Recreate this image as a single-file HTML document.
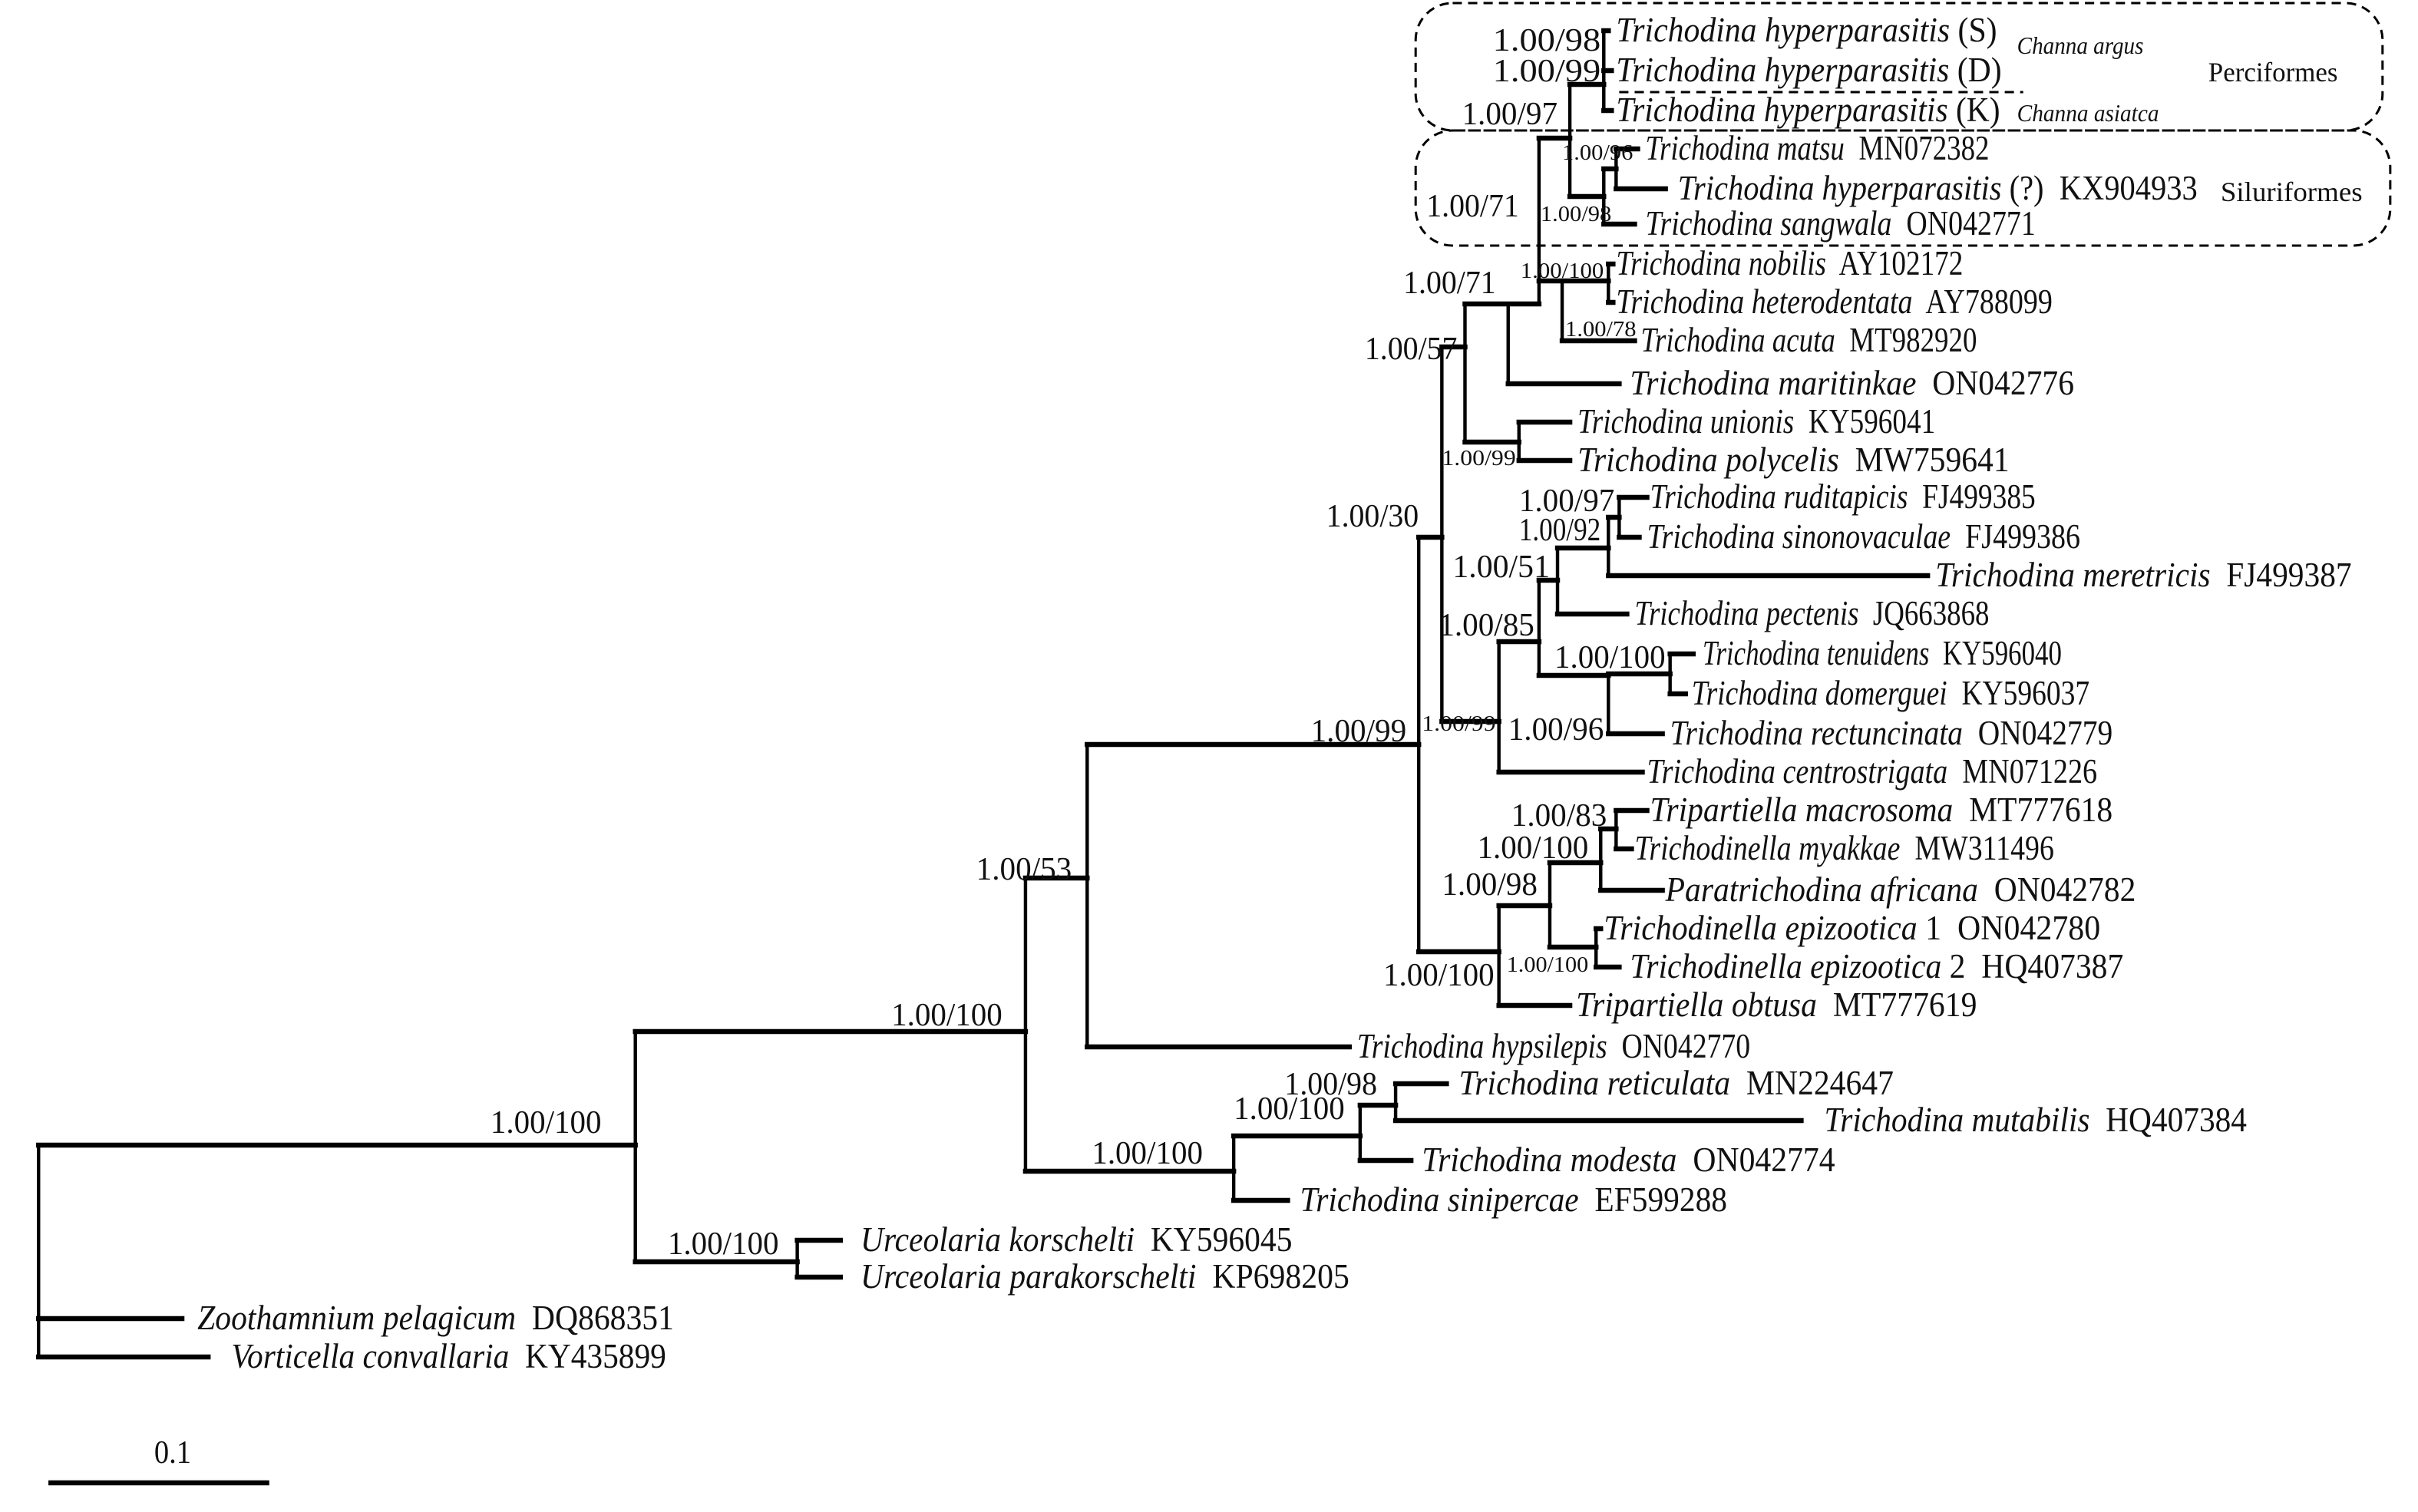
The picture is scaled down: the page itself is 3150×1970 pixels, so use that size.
<!DOCTYPE html>
<html><head><meta charset="utf-8"><style>
html,body{margin:0;padding:0;background:#fff;}
svg{display:block;}
text{font-family:"Liberation Serif",serif;fill:#111;white-space:pre;}
.l{font-size:22.5px;}
.s{font-size:21px;}
.t{font-size:14px;}
.i{font-style:italic;}
</style></head><body>
<svg width="3150" height="1970" viewBox="0 0 1568 985" preserveAspectRatio="none" xmlns="http://www.w3.org/2000/svg" xml:space="preserve">
<g stroke="#000" fill="none" stroke-linecap="square">
<g stroke-width="3.2">
<path d="M25 746H412M25 859H118M25 884H135M412 672H665M412 822H517M517 808H545M517 832H545
M665 572H705M665 763H800M705 485H920M705 682H875M800 782H835M800 740H882M882 756H915M882 720H905M905 706H938M905 730H1168
M920 350H935M920 620H972M935 226H950M935 470H972M950 198H978M950 288H985M985 275H1018M985 300H1018
M978 198H998M978 250H1050M998 90H1018M998 183H1013M1013 183H1043M1043 172H1046M1043 197H1046M1013 222H1060
M1018 55H1040M1040 20H1043M1040 46H1045M1040 72H1045M1018 128H1040M1040 110H1048M1048 97H1062M1048 123H1080M1040 146H1060
M972 418H998M998 378H1010M998 440H1043M1010 357H1043M1010 400H1055M1043 337H1050M1050 324H1068M1050 350H1063M1043 375H1250
M1043 439H1083M1083 426H1098M1083 452H1093M1043 478H1078M972 503H1065
M972 590H1005M972 655H1018M1005 562H1038M1005 617H1035M1038 540H1048M1048 528H1068M1048 553H1058M1038 580H1078M1035 605H1038M1035 630H1050
M33 966H173"/>
</g>
<g stroke-width="2.2">
<path d="M25 746V884M412 672V822M517 808V832M665 572V763M705 485V682M800 740V782M882 720V756M905 706V730
M920 350V620M935 226V470M950 198V288M985 275V300M978 198V250M998 90V198M1013 183V222M1043 172V197
M1018 55V128M1040 20V72M1040 110V146M1048 97V123
M972 418V503M998 378V440M1010 357V400M1043 337V375M1050 324V350M1043 439V478M1083 426V452
M972 590V655M1005 562V617M1038 540V580M1048 528V553M1035 605V630"/>
</g>
<g stroke-width="1.5" stroke-dasharray="6,4" stroke-linecap="butt">
<rect x="918" y="2" width="627" height="83" rx="24"/>
<rect x="918" y="85" width="632" height="75" rx="24"/>
<path d="M1050 60H1312"/>
</g>
</g>

<g class="l">
<text x="1048" y="27" textLength="247" lengthAdjust="spacingAndGlyphs"><tspan class="i">Trichodina hyperparasitis</tspan> (S)</text>
<text x="1048" y="53" textLength="250" lengthAdjust="spacingAndGlyphs"><tspan class="i">Trichodina hyperparasitis</tspan> (D)</text>
<text x="1048" y="79" textLength="249" lengthAdjust="spacingAndGlyphs"><tspan class="i">Trichodina hyperparasitis</tspan> (K)</text>
<text x="1067" y="104" textLength="223" lengthAdjust="spacingAndGlyphs"><tspan class="i">Trichodina matsu</tspan>  MN072382</text>
<text x="1088" y="130" textLength="337" lengthAdjust="spacingAndGlyphs"><tspan class="i">Trichodina hyperparasitis</tspan> (?)  KX904933</text>
<text x="1067" y="153" textLength="253" lengthAdjust="spacingAndGlyphs"><tspan class="i">Trichodina sangwala</tspan>  ON042771</text>
<text x="1048" y="179" textLength="225" lengthAdjust="spacingAndGlyphs"><tspan class="i">Trichodina nobilis</tspan>  AY102172</text>
<text x="1048" y="204" textLength="283" lengthAdjust="spacingAndGlyphs"><tspan class="i">Trichodina heterodentata</tspan>  AY788099</text>
<text x="1064" y="229" textLength="218" lengthAdjust="spacingAndGlyphs"><tspan class="i">Trichodina acuta</tspan>  MT982920</text>
<text x="1057" y="257" textLength="288" lengthAdjust="spacingAndGlyphs"><tspan class="i">Trichodina maritinkae</tspan>  ON042776</text>
<text x="1023" y="282" textLength="232" lengthAdjust="spacingAndGlyphs"><tspan class="i">Trichodina unionis</tspan>  KY596041</text>
<text x="1023" y="307" textLength="280" lengthAdjust="spacingAndGlyphs"><tspan class="i">Trichodina polycelis</tspan>  MW759641</text>
<text x="1070" y="331" textLength="250" lengthAdjust="spacingAndGlyphs"><tspan class="i">Trichodina ruditapicis</tspan>  FJ499385</text>
<text x="1068" y="357" textLength="281" lengthAdjust="spacingAndGlyphs"><tspan class="i">Trichodina sinonovaculae</tspan>  FJ499386</text>
<text x="1255" y="382" textLength="270" lengthAdjust="spacingAndGlyphs"><tspan class="i">Trichodina meretricis</tspan>  FJ499387</text>
<text x="1060" y="407" textLength="230" lengthAdjust="spacingAndGlyphs"><tspan class="i">Trichodina pectenis</tspan>  JQ663868</text>
<text x="1104" y="433" textLength="233" lengthAdjust="spacingAndGlyphs"><tspan class="i">Trichodina tenuidens</tspan>  KY596040</text>
<text x="1097" y="459" textLength="258" lengthAdjust="spacingAndGlyphs"><tspan class="i">Trichodina domerguei</tspan>  KY596037</text>
<text x="1083" y="485" textLength="287" lengthAdjust="spacingAndGlyphs"><tspan class="i">Trichodina rectuncinata</tspan>  ON042779</text>
<text x="1068" y="510" textLength="292" lengthAdjust="spacingAndGlyphs"><tspan class="i">Trichodina centrostrigata</tspan>  MN071226</text>
<text x="1070" y="535" textLength="300" lengthAdjust="spacingAndGlyphs"><tspan class="i">Tripartiella macrosoma</tspan>  MT777618</text>
<text x="1060" y="560" textLength="272" lengthAdjust="spacingAndGlyphs"><tspan class="i">Trichodinella myakkae</tspan>  MW311496</text>
<text x="1080" y="587" textLength="305" lengthAdjust="spacingAndGlyphs"><tspan class="i">Paratrichodina africana</tspan>  ON042782</text>
<text x="1040" y="612" textLength="322" lengthAdjust="spacingAndGlyphs"><tspan class="i">Trichodinella epizootica</tspan> 1  ON042780</text>
<text x="1057" y="637" textLength="320" lengthAdjust="spacingAndGlyphs"><tspan class="i">Trichodinella epizootica</tspan> 2  HQ407387</text>
<text x="1022" y="662" textLength="260" lengthAdjust="spacingAndGlyphs"><tspan class="i">Tripartiella obtusa</tspan>  MT777619</text>
<text x="880" y="689" textLength="255" lengthAdjust="spacingAndGlyphs"><tspan class="i">Trichodina hypsilepis</tspan>  ON042770</text>
<text x="946" y="713" textLength="282" lengthAdjust="spacingAndGlyphs"><tspan class="i">Trichodina reticulata</tspan>  MN224647</text>
<text x="1183" y="737" textLength="274" lengthAdjust="spacingAndGlyphs"><tspan class="i">Trichodina mutabilis</tspan>  HQ407384</text>
<text x="922" y="763" textLength="268" lengthAdjust="spacingAndGlyphs"><tspan class="i">Trichodina modesta</tspan>  ON042774</text>
<text x="843" y="789" textLength="277" lengthAdjust="spacingAndGlyphs"><tspan class="i">Trichodina sinipercae</tspan>  EF599288</text>
<text x="558" y="815" textLength="280" lengthAdjust="spacingAndGlyphs"><tspan class="i">Urceolaria korschelti</tspan>  KY596045</text>
<text x="558" y="839" textLength="317" lengthAdjust="spacingAndGlyphs"><tspan class="i">Urceolaria parakorschelti</tspan>  KP698205</text>
<text x="128" y="866" textLength="309" lengthAdjust="spacingAndGlyphs"><tspan class="i">Zoothamnium pelagicum</tspan>  DQ868351</text>
<text x="150" y="891" textLength="282" lengthAdjust="spacingAndGlyphs"><tspan class="i">Vorticella convallaria</tspan>  KY435899</text>
</g>
<text class="i" x="1308" y="35" font-size="16" textLength="82" lengthAdjust="spacingAndGlyphs">Channa argus</text>
<text class="i" x="1308" y="79" font-size="16" textLength="92" lengthAdjust="spacingAndGlyphs">Channa asiatca</text>
<text x="1432" y="53" font-size="18" textLength="84" lengthAdjust="spacingAndGlyphs">Perciformes</text>
<text x="1440" y="131" font-size="18" textLength="92" lengthAdjust="spacingAndGlyphs">Siluriformes</text>

<g class="s">
<text x="968" y="33" textLength="70" lengthAdjust="spacingAndGlyphs">1.00/98</text>
<text x="968" y="53" textLength="70" lengthAdjust="spacingAndGlyphs">1.00/99</text>
<text x="948" y="81" textLength="62" lengthAdjust="spacingAndGlyphs">1.00/97</text>
<text x="925" y="141" textLength="60" lengthAdjust="spacingAndGlyphs">1.00/71</text>
<text x="910" y="191" textLength="60" lengthAdjust="spacingAndGlyphs">1.00/71</text>
<text x="885" y="234" textLength="60" lengthAdjust="spacingAndGlyphs">1.00/57</text>
<text x="860" y="343" textLength="60" lengthAdjust="spacingAndGlyphs">1.00/30</text>
<text x="985" y="333" textLength="62" lengthAdjust="spacingAndGlyphs">1.00/97</text>
<text x="985" y="352" textLength="53" lengthAdjust="spacingAndGlyphs">1.00/92</text>
<text x="942" y="376" textLength="63" lengthAdjust="spacingAndGlyphs">1.00/51</text>
<text x="933" y="414" textLength="62" lengthAdjust="spacingAndGlyphs">1.00/85</text>
<text x="1008" y="435" textLength="72" lengthAdjust="spacingAndGlyphs">1.00/100</text>
<text x="978" y="482" textLength="62" lengthAdjust="spacingAndGlyphs">1.00/96</text>
<text x="850" y="483" textLength="62" lengthAdjust="spacingAndGlyphs">1.00/99</text>
<text x="980" y="538" textLength="62" lengthAdjust="spacingAndGlyphs">1.00/83</text>
<text x="958" y="559" textLength="72" lengthAdjust="spacingAndGlyphs">1.00/100</text>
<text x="935" y="583" textLength="62" lengthAdjust="spacingAndGlyphs">1.00/98</text>
<text x="897" y="642" textLength="72" lengthAdjust="spacingAndGlyphs">1.00/100</text>
<text x="633" y="573" textLength="62" lengthAdjust="spacingAndGlyphs">1.00/53</text>
<text x="578" y="668" textLength="72" lengthAdjust="spacingAndGlyphs">1.00/100</text>
<text x="318" y="738" textLength="72" lengthAdjust="spacingAndGlyphs">1.00/100</text>
<text x="433" y="817" textLength="72" lengthAdjust="spacingAndGlyphs">1.00/100</text>
<text x="708" y="758" textLength="72" lengthAdjust="spacingAndGlyphs">1.00/100</text>
<text x="800" y="729" textLength="72" lengthAdjust="spacingAndGlyphs">1.00/100</text>
<text x="833" y="713" textLength="60" lengthAdjust="spacingAndGlyphs">1.00/98</text>
<text x="100" y="953" textLength="24" lengthAdjust="spacingAndGlyphs">0.1</text>
</g>
<g class="t">
<text x="1013" y="104" textLength="46" lengthAdjust="spacingAndGlyphs">1.00/96</text>
<text x="999" y="144" textLength="46" lengthAdjust="spacingAndGlyphs">1.00/98</text>
<text x="986" y="181" textLength="54" lengthAdjust="spacingAndGlyphs">1.00/100</text>
<text x="1015" y="219" textLength="46" lengthAdjust="spacingAndGlyphs">1.00/78</text>
<text x="935" y="303" textLength="48" lengthAdjust="spacingAndGlyphs">1.00/99</text>
<text x="922" y="476" textLength="48" lengthAdjust="spacingAndGlyphs">1.00/99</text>
<text x="977" y="633" textLength="53" lengthAdjust="spacingAndGlyphs">1.00/100</text>
</g>
</svg>
</body></html>
